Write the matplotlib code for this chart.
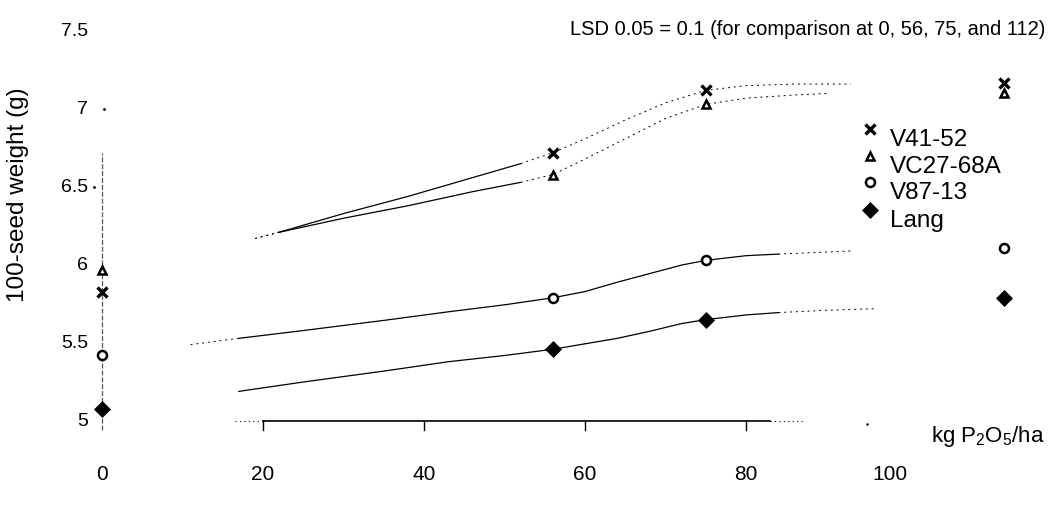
#! /usr/bin/env python3

import numpy as np
import matplotlib
matplotlib.use("Agg")
import matplotlib.pyplot as plt

plt.rcParams['font.family'] = ['Liberation Sans', 'DejaVu Sans']
plt.rcParams['mathtext.fontset'] = 'custom'
plt.rcParams['mathtext.rm'] = 'Liberation Sans'
plt.rcParams['mathtext.it'] = 'Liberation Sans:italic'

# seed weight at the four P rates
rates = [0, 56, 75, 112]
v41_52 = [5.83, 6.72, 7.12, 7.17]
vc27_68a = [5.97, 6.58, 7.03, 7.10]
v87_13 = [5.42, 5.79, 6.03, 6.11]
lang = [5.08, 5.46, 5.65, 5.79]

# fitted response curves
v41_curve_x = [19, 22, 30, 38, 46, 52, 56, 60, 65, 70, 75, 80, 86, 93]
v41_curve_y = [6.17, 6.21, 6.33, 6.44, 6.56, 6.65, 6.72, 6.81, 6.93, 7.04, 7.12, 7.15, 7.16, 7.16]
vc27_curve_x = [19, 22, 30, 38, 46, 52, 56, 60, 65, 70, 75, 80, 86, 90]
vc27_curve_y = [6.17, 6.21, 6.30, 6.38, 6.47, 6.53, 6.58, 6.68, 6.81, 6.94, 7.03, 7.07, 7.09, 7.10]
v87_curve_x = [11, 17, 25, 35, 43, 50, 56, 60, 64, 68, 72, 75, 80, 84, 93]
v87_curve_y = [5.49, 5.53, 5.58, 5.645, 5.70, 5.745, 5.79, 5.83, 5.89, 5.945, 6.0, 6.03, 6.06, 6.07, 6.09]
lang_curve_x = [17, 25, 35, 43, 50, 56, 60, 64, 68, 72, 75, 80, 84, 90, 96]
lang_curve_y = [5.19, 5.25, 5.32, 5.38, 5.42, 5.46, 5.495, 5.53, 5.575, 5.625, 5.65, 5.68, 5.695, 5.71, 5.72]

names = ['V41-52', 'VC27-68A', 'V87-13', 'Lang']
y_ticks = [5, 5.5, 6, 6.5, 7, 7.5]
x_ticks = [0, 20, 40, 60, 80, 100]

styles = {
	'V41-52': dict(marker='x', ms=6.5, mew=2.4, mec='black', mfc='black'),
	'VC27-68A': dict(marker='^', ms=6, mew=1.8, mec='black', mfc='white'),
	'V87-13': dict(marker='o', ms=6.5, mew=1.8, mec='black', mfc='white'),
	'Lang': dict(marker='D', ms=8.5, mew=0.5, mec='black', mfc='black'),
}


def draw_curve(ax, xs, ys, solid_from, solid_to):
	xs = np.asarray(xs, dtype=float)
	ys = np.asarray(ys, dtype=float)
	solid = (xs >= solid_from) & (xs <= solid_to)
	ax.plot(xs[solid], ys[solid], color='black', lw=0.9, zorder=2)
	lead = xs <= solid_from
	tail = xs >= solid_to
	for part in (lead, tail):
		if part.sum() > 1:
			ax.plot(xs[part], ys[part], color='black', lw=0.7,
					linestyle=(0, (2, 4)), zorder=2)


fig = plt.figure(figsize=(10.53, 5.05), dpi=100)
ax = fig.add_axes([0, 0, 1, 1])
ax.set_xlim(-12.67, 118.1)
ax.set_ylim(4.4615, 7.699)
ax.axis('off')

# curves
draw_curve(ax, v41_curve_x, v41_curve_y, 22, 52)
draw_curve(ax, vc27_curve_x, vc27_curve_y, 22, 52)
draw_curve(ax, v87_curve_x, v87_curve_y, 17, 84)
draw_curve(ax, lang_curve_x, lang_curve_y, 17, 84)

# axes drawn by hand
ax.plot([0, 0], [4.94, 6.72], color='#555555', lw=0.9,
		linestyle=(0, (4, 1.5)), zorder=1)
ax.plot([0.2, -1.0], [7.0, 6.5], linestyle='none', marker='.', ms=2, color='black')
ax.plot([20, 83], [5, 5], color='black', lw=1.2, zorder=1)
ax.plot([16.5, 20], [5, 5], color='black', lw=0.8, linestyle=(0, (1, 3)))
ax.plot([83, 87], [5, 5], color='black', lw=0.8, linestyle=(0, (1, 3)))
ax.plot([95], [4.98], linestyle='none', marker='.', ms=1.5, color='black')
for t in x_ticks[1:5]:
	ax.plot([t, t], [5, 4.945], color='black', lw=1.0)

for t in y_ticks:
	ax.text(-1.7, t, '{:g}'.format(t), ha='right', va='center', fontsize=14)
for t in x_ticks:
	ax.text(t, 4.655, str(t), ha='right' if t == 100 else 'center',
			va='center', fontsize=15)

ax.text(-10.4, 6.45, '100-seed weight (g)', rotation=90, ha='center',
		va='center', fontsize=17.5)
ax.text(117.1, 4.90, r'kg P$_2$O$_5$/ha', ha='right', va='center', fontsize=16)
ax.text(117.1, 7.51, 'LSD 0.05 = 0.1 (for comparison at 0, 56, 75, and 112)',
		ha='right', va='center', fontsize=14.5)

# data markers
series = [v41_52, vc27_68a, v87_13, lang]
for name, vals in zip(names, series):
	ax.plot(rates, vals, linestyle='none', zorder=3, **styles[name])

# legend
leg_x = 95.4
leg_y = [6.87, 6.70, 6.53, 6.35]
for name, ly in zip(names, leg_y):
	ax.plot([leg_x], [ly], linestyle='none', zorder=3, **styles[name])
	ax.text(leg_x + 2.5, ly - 0.07, name, ha='left', va='center', fontsize=17.5)

plt.savefig('out.png', dpi=100)
plt.close()
